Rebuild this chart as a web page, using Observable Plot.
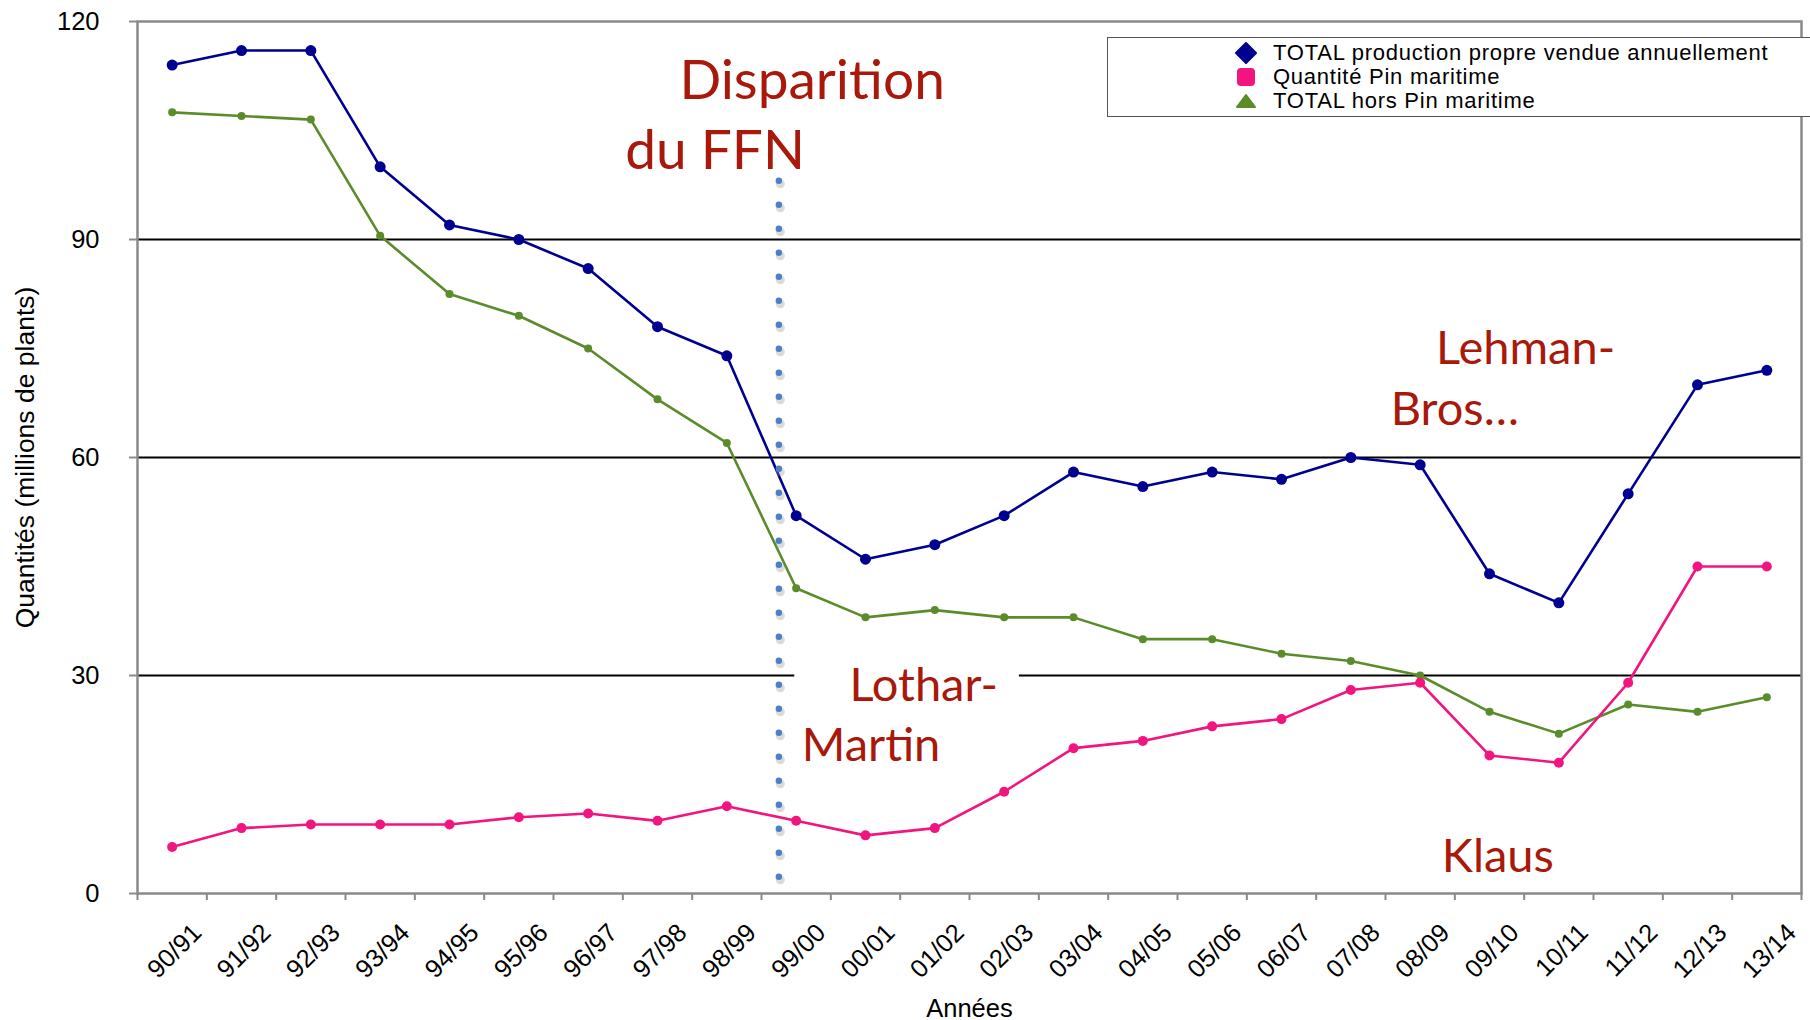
<!DOCTYPE html>
<html>
<head>
<meta charset="utf-8">
<script src="https://cdn.jsdelivr.net/npm/d3@7"></script>
<script src="https://cdn.jsdelivr.net/npm/@observablehq/plot@0.6"></script>
<style>
  html, body { margin: 0; padding: 0; background: #fff; }
  #wrap { position: relative; width: 1810px; height: 1020px; overflow: hidden; background: #fff; }
  #legend { position: absolute; left: 1107px; top: 37px; width: 760px; height: 78px;
            border: 1.5px solid #555; background: #fff; font-family: "Liberation Sans", Arial, sans-serif;
            font-size: 22px; letter-spacing: 0.75px; color: #000; }
  .row { position: absolute; left: 0; height: 24px; line-height: 24px; white-space: nowrap; }
  .row svg { position: absolute; left: 126px; top: 1px; }
  .row span { position: absolute; left: 165px; top: 0; }
</style>
</head>
<body>
<div id="wrap">
  <div id="chart"></div>
  <div id="legend"></div>
</div>
<script>
// ---- data ----
const years = ["90/91","91/92","92/93","93/94","94/95","95/96","96/97","97/98","98/99","99/00","00/01","01/02","02/03","03/04","04/05","05/06","06/07","07/08","08/09","09/10","10/11","11/12","12/13","13/14"];
const totalProduction = [114,116,116,100,92,90,86,78,74,52,46,48,52,58,56,58,57,60,59,44,40,55,70,72];
const pinMaritime = [6.4,9,9.5,9.5,9.5,10.5,11,10,12,10,8,9,14,20,21,23,24,28,29,19,18,29,45,45];
const horsPin = [107.5,107,106.5,90.5,82.5,79.5,75,68,62,42,38,39,38,38,35,35,33,32,30,25,22,26,25,27];
const seriesNames = ["TOTAL production propre vendue annuellement", "Quantité Pin maritime", "TOTAL hors Pin maritime"];
const seriesColors = ["#000090", "#f2147f", "#5b8c2b"];
const yTicks = [0, 30, 60, 90, 120];
const gridValues = [30, 60, 90];
// event marker (position in category units) : disappearance of FFN
const eventX = [9.25];
const eventSpan = [98, 2];
// annotation texts: [text, x (category units), y (value), size]
const annotations = [
  ["Disparition", 9.73, 111.8, 55],
  ["du FFN", 8.33, 102.1, 55],
  ["Lehman-", 20.02, 74.9, 47],
  ["Bros…", 19.0, 66.5, 47],
  ["Lothar-", 11.34, 28.5, 47],
  ["Martin", 10.58, 20.3, 47],
  ["Klaus", 19.62, 5.0, 47]
];
// white box behind "Lothar-Martin"
const annotationBoxes = [{x1: 9.48, x2: 12.72, y1: 17, y2: 32.6}];

const rows = (vals) => vals.map((v, i) => ({x: i + 0.5, value: v, year: years[i]}));
const dTotal = rows(totalProduction);
const dPin = rows(pinMaritime);
const dHors = rows(horsPin);

const font = '"Liberation Sans", Arial, sans-serif';
const annFont = 'Lato, "Open Sans", sans-serif';
const red = "#a8190b";

const chart = Plot.plot({
  width: 1810,
  height: 1020,
  marginLeft: 137,
  marginRight: 9,
  marginTop: 21,
  marginBottom: 127,
  style: {fontFamily: font, background: "white", color: "black"},
  x: {domain: [0, years.length]},
  y: {domain: [0, 120]},
  marks: [
    Plot.ruleY(gridValues, {stroke: "black", strokeWidth: 2.2}),
    Plot.rect(annotationBoxes, {x1: "x1", x2: "x2", y1: "y1", y2: "y2", fill: "white"}),
    Plot.frame({stroke: "#8a8a8a", strokeWidth: 2.5}),
    Plot.axisY({ticks: yTicks, tickSize: 8, tickPadding: 30, fontSize: 25.5, label: null, stroke: "#8a8a8a", strokeWidth: 2, fill: "black", tickFormat: d => String(d)}),
    Plot.axisX({ticks: d3.range(years.length + 1), tickSize: 7, tickFormat: () => "", label: null, stroke: "#8a8a8a", strokeWidth: 2}),
    Plot.axisX({ticks: years.map((_, i) => i + 0.5), tickFormat: d => years[Math.round(d - 0.5)], tickSize: 0, tickPadding: 35, tickRotate: -45, dx: 25, fontSize: 25.5, fill: "black", label: null}),
    Plot.text(["Quantités (millions de plants)"], {frameAnchor: "left", textAnchor: "middle", dx: -112, rotate: -90, fontSize: 26.5, fill: "black"}),
    Plot.text(["Années"], {frameAnchor: "bottom", textAnchor: "middle", dy: 123, fontSize: 25.5, fill: "black"}),
    // lines
    Plot.line(dHors, {x: "x", y: "value", stroke: seriesColors[2], strokeWidth: 2.6}),
    Plot.dot(dHors, {x: "x", y: "value", r: 4, fill: seriesColors[2]}),
    Plot.line(dPin, {x: "x", y: "value", stroke: seriesColors[1], strokeWidth: 2.6}),
    Plot.dot(dPin, {x: "x", y: "value", r: 5, fill: seriesColors[1]}),
    Plot.line(dTotal, {x: "x", y: "value", stroke: seriesColors[0], strokeWidth: 2.6}),
    Plot.dot(dTotal, {x: "x", y: "value", r: 5.5, fill: seriesColors[0]}),
    // dotted event line with faint shadow
    Plot.ruleX(eventX, {y1: eventSpan[0], y2: eventSpan[1], stroke: "#999", strokeOpacity: 0.35, strokeWidth: 9, strokeDasharray: "0 24", strokeLinecap: "round", dx: 1.5, dy: 3}),
    Plot.ruleX(eventX, {y1: eventSpan[0], y2: eventSpan[1], stroke: "#4a80c6", strokeWidth: 6.5, strokeDasharray: "0 24", strokeLinecap: "round"}),
    // annotations
    Plot.text(annotations, {x: d => d[1], y: d => d[2], text: d => d[0], fontSize: d => d[3], fill: red, fontFamily: annFont, textAnchor: "middle", lineAnchor: "middle"})
  ]
});
document.getElementById("chart").appendChild(chart);

// legend
const legend = document.getElementById("legend");
const shapes = [
  c => `<svg width="24" height="22"><polygon points="12,1 22,11 12,21 2,11" fill="${c}" stroke="${c}" stroke-linejoin="round" stroke-width="2"/></svg>`,
  c => `<svg width="24" height="22"><rect x="3" y="2" width="18" height="18" rx="4" fill="${c}"/></svg>`,
  c => `<svg width="24" height="22"><polygon points="12,5 21,17 3,17" fill="${c}" stroke="${c}" stroke-linejoin="round" stroke-width="2"/></svg>`
];
const rowTops = [3, 27, 51];
seriesNames.forEach((name, i) => {
  const div = document.createElement("div");
  div.className = "row";
  div.style.top = rowTops[i] + "px";
  div.innerHTML = shapes[i](seriesColors[i]) + `<span>${name}</span>`;
  legend.appendChild(div);
});
</script>
</body>
</html>
